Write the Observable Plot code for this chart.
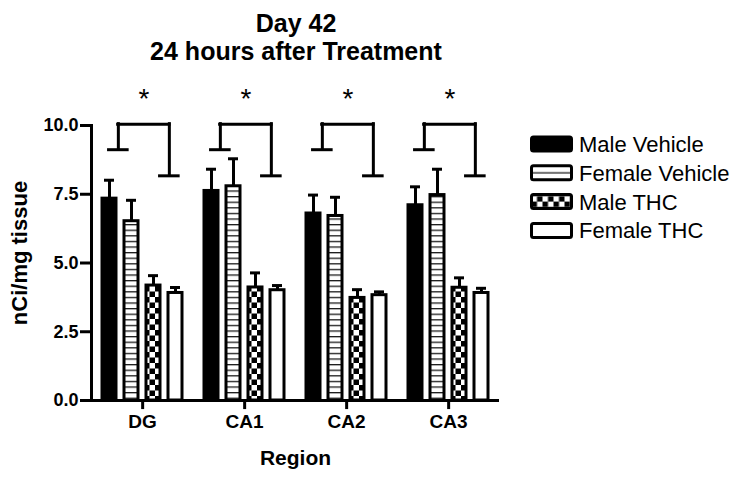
<!DOCTYPE html>
<html>
<head>
<meta charset="utf-8">
<script src="https://cdn.jsdelivr.net/npm/d3@7"></script>
<script src="https://cdn.jsdelivr.net/npm/@observablehq/plot@0.6"></script>
<style>
html, body { margin: 0; padding: 0; background: #fff; }
#wrap { position: relative; width: 741px; height: 479px; overflow: hidden; font-family: "Liberation Sans", Arial, sans-serif; color: #000; background: #fff; }
#wrap > * { position: absolute; }
.title { left: 0; top: 9px; width: 592px; text-align: center; font-size: 25px; font-weight: bold; line-height: 28px; }
.ylab { left: 20px; top: 253px; transform: translate(-50%, -50%) rotate(-90deg); white-space: nowrap; font-size: 22px; font-weight: bold; line-height: 1; }
.xlab { left: 0; top: 447px; width: 591px; text-align: center; font-size: 21px; font-weight: bold; line-height: 1; }
</style>
</head>
<body>
<svg width="0" height="0" style="position:absolute">
  <defs>
    <pattern id="hstripe" patternUnits="userSpaceOnUse" width="8" height="5.6">
      <rect width="8" height="5.6" fill="#fff"/>
      <rect y="0" width="8" height="1.3" fill="#1a1a1a"/>
    </pattern>
    <pattern id="hstripeLegend" patternUnits="objectBoundingBox" width="1" height="1">
      <rect width="60" height="20" fill="#fff"/>
      <rect y="6.4" width="60" height="1.3" fill="#222"/>
    </pattern>
    <pattern id="checker" patternUnits="userSpaceOnUse" width="11" height="11">
      <rect width="11" height="11" fill="#fff"/>
      <rect width="5.5" height="5.5" fill="#000"/>
      <rect x="5.5" y="5.5" width="5.5" height="5.5" fill="#000"/>
    </pattern>
  </defs>
</svg>
<div id="wrap">
  <div class="title">Day 42<br>24 hours after Treatment</div>
</div>
<script>
// ---- data ----
const regions = ["DG", "CA1", "CA2", "CA3"];
const series = ["Male Vehicle", "Female Vehicle", "Male THC", "Female THC"];
const maleVehicle   = [7.34, 7.62, 6.80, 7.10];
const femaleVehicle = [6.52, 7.79, 6.71, 7.47];
const maleTHC       = [4.18, 4.11, 3.73, 4.10];
const femaleTHC     = [3.91, 4.01, 3.83, 3.91];
const maleVehicleSEM   = [0.67, 0.79, 0.67, 0.67];
const femaleVehicleSEM = [0.76, 1.00, 0.68, 0.94];
const maleTHCSEM       = [0.36, 0.53, 0.30, 0.36];
const femaleTHCSEM     = [0.20, 0.17, 0.12, 0.17];
const yTicks = [0, 2.5, 5, 7.5, 10];
// significance brackets (data units)
const bracketTop   = [10.05, 10.05, 10.05, 10.05];
const bracketLeft  = [9.12, 9.12, 9.12, 9.12];
const bracketRight = [8.17, 8.17, 8.17, 8.17];
const starLevel    = [10.97, 10.97, 10.97, 10.97];
const starText = "*";

const means = [maleVehicle, femaleVehicle, maleTHC, femaleTHC];
const sems = [maleVehicleSEM, femaleVehicleSEM, maleTHCSEM, femaleTHCSEM];
const fills = ["#000", "url(#hstripe)", "url(#checker)", "#fff"];
const legendFills = ["#000", "url(#hstripeLegend)", "url(#checker)", "#fff"];

const data = regions.flatMap((r, i) => series.map((s, j) => ({region: r, series: s, mean: means[j][i], sem: sems[j][i]})));
const brackets = regions.map((r, i) => ({region: r, top: bracketTop[i], left: bracketLeft[i], right: bracketRight[i], star: starLevel[i]}));
const regionTicks = regions.map(r => ({region: r}));

const first = () => series[0];
const last = () => series[series.length - 1];
const mid = () => series[1];

const plot = Plot.plot({
  width: 741,
  height: 479,
  marginLeft: 90,
  marginRight: 241,
  marginTop: 125,
  marginBottom: 79,
  style: {fontFamily: "'Liberation Sans', Arial, sans-serif", fontWeight: "bold", fontSize: "17px", color: "#000", background: "transparent", overflow: "visible"},
  fx: {domain: regions, padding: 0},
  x: {domain: series, paddingInner: 0.372, paddingOuter: 0.484, axis: null},
  y: {domain: [0, 10]},
  color: {domain: series, range: fills},
  marks: [
    Plot.barY(data, {fx: "region", x: "series", y: "mean", fill: "series", stroke: "#000", strokeWidth: 3}),
    Plot.ruleX(data, {fx: "region", x: "series", y1: "mean", y2: d => d.mean + d.sem, stroke: "#000", strokeWidth: 3}),
    Plot.tickY(data, {fx: "region", x: "series", y: d => d.mean + d.sem, stroke: "#000", strokeWidth: 3, insetLeft: 2, insetRight: 2}),
    // brackets
    Plot.ruleY(brackets, {fx: "region", y: "top", insetLeft: 26.65, insetRight: 23.95, stroke: "#000", strokeWidth: 3, strokeLinecap: "square"}),
    Plot.ruleX(brackets, {fx: "region", x: first, dx: 8.85, y1: "left", y2: "top", stroke: "#000", strokeWidth: 3, strokeLinecap: "square"}),
    Plot.ruleX(brackets, {fx: "region", x: last, dx: -6.15, y1: "right", y2: "top", stroke: "#000", strokeWidth: 3, strokeLinecap: "square"}),
    Plot.tickY(brackets, {fx: "region", x: first, dx: 8.85, y: "left", stroke: "#000", strokeWidth: 3, insetLeft: -3.8, insetRight: -3.8}),
    Plot.tickY(brackets, {fx: "region", x: last, dx: -6.15, y: "right", stroke: "#000", strokeWidth: 3, insetLeft: -3.8, insetRight: -3.8}),
    Plot.text(brackets, {fx: "region", y: "star", text: () => starText, fontSize: 28, fontWeight: "normal", dx: 1.5}),
    // axes
    Plot.ruleY([0], {stroke: "#000", strokeWidth: 3}),
    Plot.ruleX(regionTicks, {fx: "region", x: mid, dx: 11.15, y1: () => 0, y2: () => -0.33, stroke: "#000", strokeWidth: 3}),
    Plot.frame({anchor: "left", facetAnchor: "left", stroke: "#000", strokeWidth: 3}),
    Plot.axisY({ticks: yTicks, tickFormat: d3.format(".1f"), tickSize: 11, tickPadding: 2, strokeWidth: 3, fontSize: 18, fontWeight: "bold", label: null}),
    Plot.axisFx({anchor: "bottom", tickSize: 0, tickPadding: 14, fontSize: 19, fontWeight: "bold", label: null})
  ]
});
plot.style.left = "0px";
plot.style.top = "0px";
const wrap = document.getElementById("wrap");
wrap.appendChild(plot);

// axis titles
const ylab = document.createElement("div");
ylab.className = "ylab";
ylab.textContent = "nCi/mg tissue";
wrap.appendChild(ylab);
const xlab = document.createElement("div");
xlab.className = "xlab";
xlab.textContent = "Region";
wrap.appendChild(xlab);

// legend
const leg = d3.create("svg").attr("width", 741).attr("height", 479).style("left", "0px").style("top", "0px");
const rows = leg.selectAll("g").data(series).join("g")
  .attr("transform", (d, i) => `translate(531.5, ${144 + i * 28.8})`);
rows.append("rect")
  .attr("x", 0).attr("y", -7).attr("width", 40).attr("height", 14).attr("rx", 2)
  .attr("fill", (d, i) => legendFills[i]).attr("stroke", "#000").attr("stroke-width", 3);
rows.append("text")
  .attr("x", 47.5).attr("dy", "0.36em")
  .attr("font-family", "'Liberation Sans', Arial, sans-serif").attr("font-size", 22)
  .text(d => d);
wrap.appendChild(leg.node());
</script>
</body>
</html>
